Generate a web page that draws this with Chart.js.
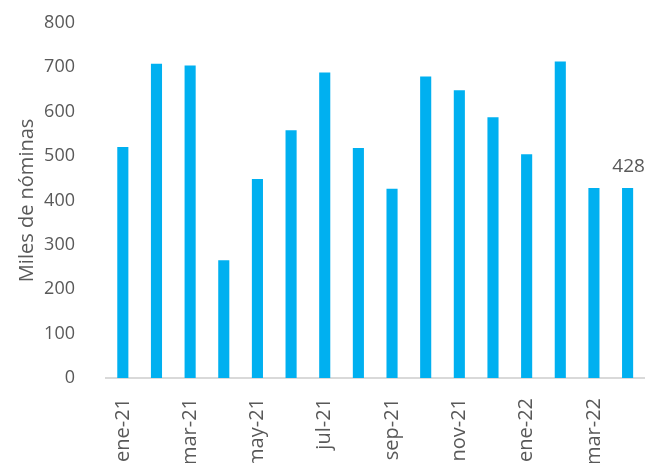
<!DOCTYPE html>
<html>
<head>
<meta charset="utf-8">
<script src="https://cdn.jsdelivr.net/npm/chart.js@4"></script>
<style>
  html, body { margin: 0; padding: 0; background: #fff; overflow: hidden; }
  #wrap { width: 664px; height: 511px; margin-top: -11px; }
</style>
</head>
<body>
<div id="wrap"><canvas id="barChart"></canvas></div>
<script>
// ── Data ───────────────────────────────────────────────────────
const months = [
  'ene-21', 'feb-21', 'mar-21', 'abr-21', 'may-21', 'jun-21',
  'jul-21', 'ago-21', 'sep-21', 'oct-21', 'nov-21', 'dic-21',
  'ene-22', 'feb-22', 'mar-22', 'abr-22'
];
const nominas = [520, 708, 704, 265, 448, 558, 688, 518, 426, 679, 648, 587, 504, 713, 428, 428];
const yTicks  = [0, 100, 200, 300, 400, 500, 600, 700, 800];

const TEXT = '#595959';
Chart.defaults.font.family = "'Open Sans', sans-serif";
Chart.defaults.color = TEXT;

// value label only over the last bar
const lastLabel = {
  id: 'lastLabel',
  afterDatasetsDraw(chart) {
    const i = nominas.length - 1;
    const bar = chart.getDatasetMeta(0).data[i];
    const ctx = chart.ctx;
    ctx.save();
    ctx.font = "19px 'Open Sans', sans-serif";
    ctx.fillStyle = TEXT;
    ctx.textAlign = 'center';
    ctx.textBaseline = 'alphabetic';
    ctx.fillText(String(nominas[i]), bar.x + 1, bar.y - 16);
    ctx.restore();
  }
};

new Chart(document.getElementById('barChart'), {
  type: 'bar',
  data: {
    labels: months,
    datasets: [{
      data: nominas,
      backgroundColor: '#00B0F0',
      barPercentage: 0.33,
      categoryPercentage: 1
    }]
  },
  options: {
    responsive: true,
    maintainAspectRatio: false,
    animation: false,
    layout: { padding: { top: 0, right: 13, left: 14, bottom: 0 } },
    plugins: {
      legend: { display: false },
      tooltip: { enabled: false }
    },
    scales: {
      x: {
        afterFit: (scale) => { scale.height = 122; },   // axis sits at y≈378, labels run off the bottom
        grid: { display: false },
        border: { display: true, color: '#d9d9d9', width: 2 },
        ticks: {
          autoSkip: false,
          maxRotation: 90,
          minRotation: 90,
          padding: 12,
          font: { size: 20 },
          callback: (val, i) => (i % 2 === 0 ? months[i] : '')
        }
      },
      y: {
        min: 0,
        max: 800,
        afterFit: (scale) => { scale.width = 92; },
        afterBuildTicks: (axis) => { axis.ticks = yTicks.map(v => ({ value: v })); },
        grid: { display: false },
        border: { display: false },
        ticks: { padding: 23, font: { size: 18 } },
        title: {
          display: true,
          text: 'Miles de nóminas',
          font: { size: 20 },
          color: TEXT,
          padding: { top: 1, bottom: 0 }
        }
      }
    }
  },
  plugins: [lastLabel]
});
</script>
</body>
</html>
